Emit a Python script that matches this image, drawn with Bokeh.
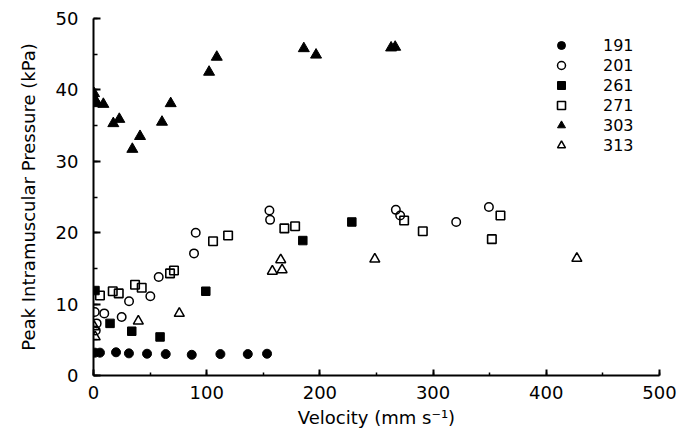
from bokeh.plotting import figure
from bokeh.models import Range1d, Legend, LegendItem, SingleIntervalTicker
from bokeh.embed import file_html
from bokeh.resources import INLINE

# ---- data ----
v191 = [1.3, 5.7, 19.9, 31.3, 47.3, 63.8, 86.8, 112.1, 136.3, 153.3]
p191 = [3.2, 3.2, 3.25, 3.1, 3.05, 3.0, 2.9, 3.0, 3.0, 3.05]

v201 = [1.1, 2.8, 2.0, 9.5, 24.9, 31.4, 50.2, 57.6, 88.8, 90.3, 155.4, 156.0, 267.1, 270.9, 320.4, 349.3]
p201 = [8.9, 7.3, 6.3, 8.7, 8.2, 10.4, 11.1, 13.8, 17.1, 20.0, 23.1, 21.8, 23.2, 22.4, 21.5, 23.6]

v261 = [1.3, 14.6, 33.8, 58.8, 99.2, 184.9, 228.2]
p261 = [11.9, 7.3, 6.2, 5.4, 11.8, 18.9, 21.5]

v271 = [5.7, 17.0, 22.3, 36.7, 42.6, 67.6, 71.1, 105.6, 118.9, 168.6, 178.1, 274.4, 290.9, 351.9, 359.5]
p271 = [11.2, 11.8, 11.5, 12.7, 12.3, 14.3, 14.7, 18.8, 19.6, 20.6, 20.9, 21.7, 20.2, 19.1, 22.4]

v303 = [0.5, 1.5, 3.0, 8.7, 17.5, 22.8, 34.3, 41.1, 60.5, 68.2, 102.1, 108.9, 185.8, 196.6, 262.9, 266.5]
p303 = [39.5, 38.6, 38.1, 38.0, 35.3, 35.9, 31.7, 33.5, 35.5, 38.1, 42.5, 44.6, 45.8, 44.9, 45.9, 46.0]

v313 = [0.8, 1.5, 39.6, 75.8, 158.0, 165.4, 166.6, 248.5, 427.0]
p313 = [6.8, 5.4, 7.6, 8.7, 14.6, 16.2, 14.8, 16.3, 16.4]

series_names = ["191", "201", "261", "271", "303", "313"]
x_ticks_step = 100
y_ticks_step = 10

FONT = "DejaVu Sans"

p = figure(width=684, height=432, x_range=Range1d(0, 500), y_range=Range1d(0, 50),
           output_backend="svg", toolbar_location=None,
           min_border_left=93, min_border_right=25, min_border_top=18, min_border_bottom=57)
p.outline_line_color = None
p.xgrid.visible = False
p.ygrid.visible = False
p.background_fill_color = "white"

r1 = p.scatter(v191, p191, marker="circle", size=9, fill_color="black", line_color="black")
r2 = p.scatter(v201, p201, marker="circle", size=8.5, fill_color="white", fill_alpha=0,
               line_color="black", line_width=1.5)
r3 = p.scatter(v261, p261, marker="square", size=8.5, fill_color="black", line_color="black")
r4 = p.scatter(v271, p271, marker="square", size=8.5, fill_color="white", fill_alpha=0,
               line_color="black", line_width=1.6)
r5 = p.scatter(v303, p303, marker="triangle", size=11, fill_color="black", line_color="black")
r6 = p.scatter(v313, p313, marker="triangle", size=10, fill_color="white", fill_alpha=0,
               line_color="black", line_width=1.5)

xa = p.xaxis[0]
xa.ticker = SingleIntervalTicker(interval=x_ticks_step, num_minor_ticks=2)
ya = p.yaxis[0]
ya.ticker = SingleIntervalTicker(interval=y_ticks_step, num_minor_ticks=2)

for ax in (xa, ya):
    ax.axis_line_width = 2
    ax.axis_line_color = "black"
    ax.major_tick_line_width = 2
    ax.minor_tick_line_width = 1.5
    ax.major_tick_line_color = "black"
    ax.minor_tick_line_color = "black"
    ax.major_tick_out = 0
    ax.minor_tick_out = 0
    ax.major_label_text_font = FONT
    ax.major_label_text_font_size = "18px"
    ax.major_label_text_color = "black"
    ax.axis_label_text_font = FONT
    ax.axis_label_text_font_size = "18px"
    ax.axis_label_text_font_style = "normal"
    ax.axis_label_text_color = "black"

xa.major_tick_in = 6
xa.minor_tick_in = 3
ya.major_tick_in = 7
ya.minor_tick_in = 4
xa.major_label_standoff = 10
xa.axis_label_standoff = 5
ya.major_label_standoff = 15
ya.axis_label_standoff = 14

xa.axis_label = "Velocity (mm s\u207b\u00b9)"
ya.axis_label = "Peak Intramuscular Pressure (kPa)"

renderers = [r1, r2, r3, r4, r5, r6]
legend = Legend(items=[LegendItem(label=n, renderers=[r]) for n, r in zip(series_names, renderers)],
                location=(458, 220), padding=0, margin=0, spacing=0,
                glyph_width=20, glyph_height=20, label_height=20, label_standoff=32,
                label_text_font=FONT, label_text_font_size="16px", label_text_color="black",
                border_line_color=None, background_fill_alpha=0)
p.add_layout(legend)

open("out.html", "w").write(file_html(p, INLINE))
